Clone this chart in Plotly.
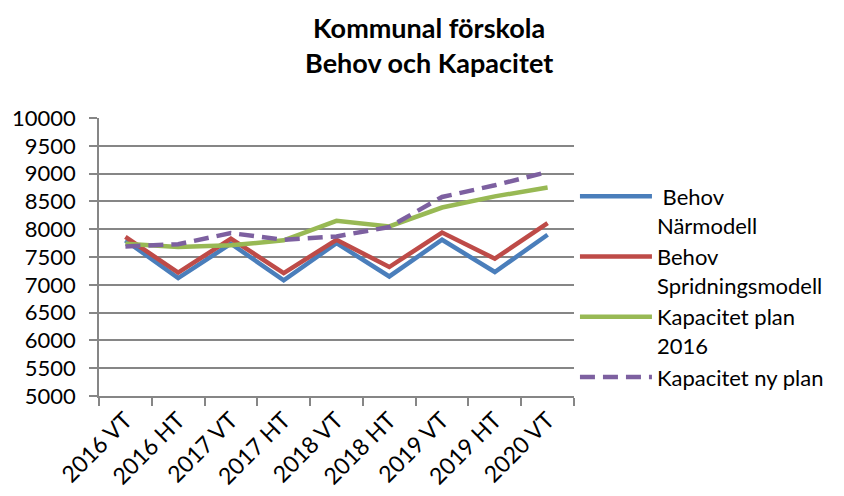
import plotly.graph_objects as go

categories = ["2016 VT", "2016 HT", "2017 VT", "2017 HT", "2018 VT",
              "2018 HT", "2019 VT", "2019 HT", "2020 VT"]
behov_narmodell = [7800, 7120, 7740, 7080, 7750, 7150, 7810, 7230, 7900]
behov_spridning = [7860, 7220, 7830, 7210, 7810, 7320, 7940, 7470, 8110]
kapacitet_plan_2016 = [7740, 7680, 7710, 7800, 8150, 8050, 8390, 8590, 8750]
kapacitet_ny_plan = [7690, 7730, 7930, 7810, 7870, 8040, 8580, 8790, 9030]

series = [
    (" Behov<br>Närmodell", behov_narmodell, "#4A7EBB", "solid"),
    ("Behov<br>Spridningsmodell", behov_spridning, "#BE4B48", "solid"),
    ("Kapacitet plan<br>2016", kapacitet_plan_2016, "#98B954", "solid"),
    ("Kapacitet ny plan", kapacitet_ny_plan, "#7D60A0", "15px,8px"),
]

FONT = "Lato, 'Open Sans', sans-serif"

fig = go.Figure()
for name, vals, color, dash in series:
    fig.add_trace(go.Scatter(
        x=categories, y=vals, name=name, mode="lines",
        line=dict(color=color, width=4.5, dash=dash),
    ))

fig.update_layout(
    width=844, height=496,
    paper_bgcolor="white", plot_bgcolor="white",
    margin=dict(l=91, r=278, t=110, b=108, autoexpand=False),
    font=dict(family=FONT, size=20, color="black"),
    title=dict(
        text="<b>Kommunal förskola<br>Behov och Kapacitet</b>",
        x=0.499, xanchor="center", xref="container",
        y=0.939, yanchor="top", yref="container",
        font=dict(size=27, family=FONT, color="black"),
        automargin=False,
    ),
    legend=dict(
        x=1.002, xanchor="left", y=0.793, yanchor="top",
        valign="top", font=dict(size=22),
        itemwidth=72, tracegroupgap=0,
    ),
    showlegend=True,
)
fig.update_xaxes(
    type="category", showgrid=False, showline=True, linecolor="#868686",
    linewidth=1.5, ticks="outside", tickson="boundaries", ticklen=8,
    tickcolor="#868686", tickwidth=1.5, tickangle=-45,
    tickfont=dict(size=23), range=[-0.5, 8.5], automargin=False,
)
fig.update_yaxes(
    range=[5000, 10000], dtick=500, tickformat="d", showgrid=True,
    gridcolor="#868686", gridwidth=1.5, showline=True, linecolor="#868686",
    linewidth=1.5, ticks="outside", ticklen=8, tickcolor="#868686",
    tickwidth=1.5, tickfont=dict(size=22), zeroline=False,
    ticklabelstandoff=9, automargin=False,
)

fig.write_html("out.html")
